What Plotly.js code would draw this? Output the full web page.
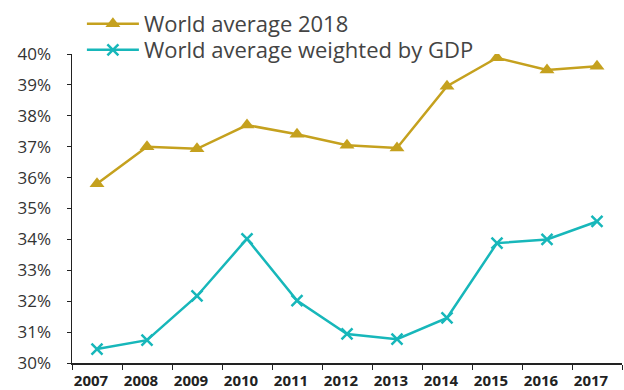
<!DOCTYPE html>
<html><head><meta charset="utf-8">
<script src="https://cdn.plot.ly/plotly-3.0.1.min.js"></script>
<style>html,body{margin:0;padding:0;background:#fff}#c{width:624px;height:390px}</style>
</head><body><div id="c"></div>
<script>
const years = ['2007','2008','2009','2010','2011','2012','2013','2014','2015','2016','2017'];
const worldAverage2018 = [35.8, 37.0, 36.93, 37.7, 37.4, 37.05, 36.96, 38.96, 39.88, 39.48, 39.6];
const worldAverageGDP = [30.45, 30.74, 32.17, 34.02, 32.02, 30.94, 30.77, 31.46, 33.88, 34.0, 34.58];
const yTicks = [30,31,32,33,34,35,36,37,38,39,40];

const traces = [
  {x: years, y: worldAverage2018, name: 'World average 2018', type: 'scatter', mode: 'lines+markers', legend: 'legend',
   line: {color: '#C5A11E', width: 2.5}, marker: {symbol: 'triangle-up', size: 13, color: '#C5A11E'}},
  {x: years, y: worldAverageGDP, name: 'World average weighted by GDP', type: 'scatter', mode: 'lines+markers', legend: 'legend2',
   line: {color: '#17B7BA', width: 2.5}, marker: {symbol: 'x-thin', size: 11, color: '#17B7BA', line: {color: '#17B7BA', width: 2.5}}}
];
const legendBase = {x: 0.018, xanchor: 'left', yanchor: 'middle', font: {size: 22, color: '#444'},
                    itemwidth: 52, bgcolor: 'rgba(0,0,0,0)'};
const layout = {
  width: 624, height: 390,
  margin: {l: 72, r: 2, t: 54, b: 27},
  paper_bgcolor: '#fff', plot_bgcolor: '#fff',
  font: {family: '"Open Sans", Lato, sans-serif', color: '#333'},
  showlegend: true,
  legend: Object.assign({}, legendBase, {y: 1.097}),
  legend2: Object.assign({}, legendBase, {y: 1.013}),
  xaxis: {type: 'category', showline: true, linecolor: '#222', linewidth: 1.5, ticks: 'outside', ticklen: 5,
          tickcolor: '#222', tickson: 'boundaries', showgrid: false, zeroline: false, ticklabelstandoff: 3,
          ticklabelshift: -6,
          tickfont: {size: 15, color: '#222', family: '"Open Sans", sans-serif', weight: 'bold'}, range: [-0.5, 10.5]},
  yaxis: {range: [30, 40], tickvals: yTicks, ticktext: yTicks.map(v => v + '%'), showline: true, linecolor: '#222',
          linewidth: 1.5, ticks: 'outside', ticklen: 4, tickcolor: '#222', showgrid: false, zeroline: false,
          ticklabelstandoff: 12, tickfont: {size: 17, color: '#333'}}
};
Plotly.newPlot('c', traces, layout, {displayModeBar: false, staticPlot: true});
</script></body></html>
